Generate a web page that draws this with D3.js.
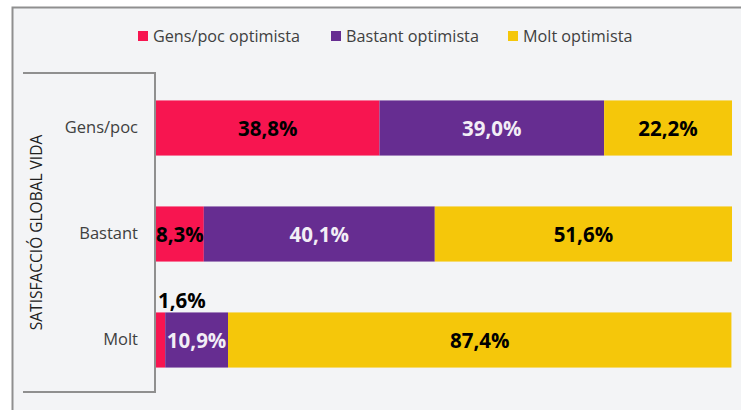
<!DOCTYPE html>
<html>
<head>
<meta charset="utf-8">
<script src="https://cdn.jsdelivr.net/npm/d3@7/dist/d3.min.js"></script>
<style>
  html, body { margin: 0; padding: 0; background: #ffffff; }
  svg { display: block; }
  text { font-family: "Open Sans", "Noto Sans", sans-serif; }
</style>
</head>
<body>
<svg id="chart" width="741" height="410"></svg>
<script>
// Satisfacció global amb la vida × grau d'optimisme (% per fila)
const categories = ["Gens/poc", "Bastant", "Molt"];
const seriesNames = ["Gens/poc optimista", "Bastant optimista", "Molt optimista"];
const gensPoc = [38.8, 8.3, 1.6];
const bastant = [39.0, 40.1, 10.9];
const molt = [22.2, 51.6, 87.4];
const colors = ["#f71550", "#662d91", "#f5c70a"];
const labelColors = ["#000000", "#f2eef6", "#000000"];
const axisTitle = "SATISFACCIÓ GLOBAL VIDA";

const svg = d3.select("#chart");
const W = 741, H = 410;

// chart area frame
svg.append("rect").attr("x", 12.5).attr("y", 7.5)
  .attr("width", W + 20).attr("height", H + 20)
  .attr("fill", "#f3f4f6").attr("stroke", "#8f8f8f").attr("stroke-width", 2);

const plot = { left: 156, right: 732, top: 73, bottom: 392 };

const x = d3.scaleLinear().domain([0, 100]).range([plot.left, plot.right]);
const y = d3.scaleBand().domain(categories).range([75, 393]).paddingInner(0.48).paddingOuter(0.24);

const rows = categories.map((c, i) => ({ cat: c, vals: [gensPoc[i], bastant[i], molt[i]] }));
const stacked = d3.stack().keys([0, 1, 2]).value((d, k) => d.vals[k])(rows);

// bars
const layers = svg.selectAll("g.layer").data(stacked).join("g")
  .attr("class", "layer").attr("fill", (d, i) => colors[i]);
layers.selectAll("rect").data(d => d).join("rect")
  .attr("x", d => x(d[0]))
  .attr("y", d => y(d.data.cat))
  .attr("width", d => x(d[1]) - x(d[0]))
  .attr("height", y.bandwidth());

// value labels
stacked.forEach((layer, i) => {
  layer.forEach(d => {
    const v = d[1] - d[0];
    const txt = d3.format(".1f")(v).replace(".", ",") + "%";
    const small = (x(d[1]) - x(d[0])) < 20;
    svg.append("text")
      .attr("x", small ? x(d[0]) + 2 : (x(d[0]) + x(d[1])) / 2)
      .attr("y", small ? y(d.data.cat) - 12 : y(d.data.cat) + y.bandwidth() / 2)
      .attr("text-anchor", small ? "start" : "middle")
      .attr("dominant-baseline", "central")
      .attr("font-size", 20.5).attr("font-weight", 700)
      .attr("fill", small ? "#000000" : labelColors[i])
      .text(txt);
  });
});

// category axis with bracket
const axisG = svg.append("g").attr("transform", `translate(${plot.left - 1},0)`)
  .call(d3.axisLeft(y).tickSize(0).tickPadding(17));
axisG.select(".domain").remove();
axisG.selectAll("text").attr("font-size", 16.5).attr("fill", "#404040")
  .attr("font-family", "'Open Sans', sans-serif");

const bracket = d3.path();
bracket.moveTo(23, plot.top); bracket.lineTo(plot.left - 1, plot.top);
bracket.lineTo(plot.left - 1, plot.bottom); bracket.lineTo(23, plot.bottom);
svg.append("path").attr("d", bracket.toString())
  .attr("fill", "none").attr("stroke", "#8f8f8f").attr("stroke-width", 2);

svg.append("text")
  .attr("transform", `translate(36,${(plot.top + plot.bottom) / 2}) rotate(-90)`)
  .attr("text-anchor", "middle").attr("dominant-baseline", "central")
  .attr("font-size", 15.5).attr("fill", "#202020")
  .text(axisTitle);

// legend
const legendX = [138, 331, 508];
const legend = svg.append("g");
seriesNames.forEach((name, i) => {
  const g = legend.append("g").attr("transform", `translate(${legendX[i]},36)`);
  g.append("rect").attr("x", 0).attr("y", -5).attr("width", 10).attr("height", 10).attr("fill", colors[i]);
  g.append("text").attr("x", 15).attr("y", 0).attr("dominant-baseline", "central")
    .attr("font-size", 16.2).attr("fill", "#404040").text(name);
});
</script>
</body>
</html>
